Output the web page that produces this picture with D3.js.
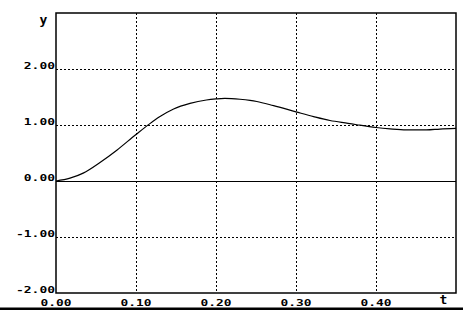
<!DOCTYPE html>
<html><head><meta charset="utf-8">
<script src="https://cdn.jsdelivr.net/npm/d3@7"></script>
<style>html,body{margin:0;padding:0;background:#fff;}svg{display:block;}</style>
</head><body>
<svg id="c" width="463" height="310"></svg>
<script>
const xTicks = [0, 0.1, 0.2, 0.3, 0.4];
const yTicks = [-2, -1, 0, 1, 2];
const xLabels = ["0.00", "0.10", "0.20", "0.30", "0.40"];
const yLabels = ["-2.00", "-1.00", "0.00", "1.00", "2.00"];
const tValues = [0, 0.0175, 0.034, 0.055, 0.076, 0.1, 0.117, 0.13, 0.147, 0.1675, 0.188, 0.2, 0.211, 0.23, 0.2425, 0.251, 0.272, 0.3, 0.322, 0.3425, 0.365, 0.376, 0.4, 0.4175, 0.438, 0.463, 0.48, 0.5];
const yValues = [0, 0.05, 0.14, 0.33, 0.55, 0.83, 1.02, 1.15, 1.285, 1.385, 1.446, 1.465, 1.475, 1.46, 1.44, 1.42, 1.345, 1.235, 1.15, 1.08, 1.03, 1.005, 0.955, 0.93, 0.912, 0.912, 0.928, 0.94];

const svg = d3.select("#c");
const x = d3.scaleLinear().domain([0, 0.5]).range([56, 456]);
const y = d3.scaleLinear().domain([-2, 3]).range([293, 13]);
const font = "'DejaVu Sans Mono', monospace";

// grid
const grid = svg.append("g").attr("stroke", "#000").attr("stroke-width", 1).attr("stroke-dasharray", "2,2");
grid.selectAll("line.v").data(xTicks.filter(d => d > 0)).join("line")
  .attr("x1", d => Math.round(x(d)) + 0.5).attr("x2", d => Math.round(x(d)) + 0.5)
  .attr("y1", y(3)).attr("y2", y(-2));
grid.selectAll("line.h").data(yTicks.filter(d => d !== 0 && d !== -2)).join("line")
  .attr("class", "h")
  .attr("x1", x(0)).attr("x2", x(0.5))
  .attr("y1", d => Math.round(y(d)) + 0.5).attr("y2", d => Math.round(y(d)) + 0.5);

// zero line
svg.append("line").attr("x1", x(0)).attr("x2", x(0.5))
  .attr("y1", Math.round(y(0)) + 0.5).attr("y2", Math.round(y(0)) + 0.5)
  .attr("stroke", "#000").attr("stroke-width", 1);

// frame
svg.append("rect").attr("x", x(0)).attr("y", y(3)).attr("width", x(0.5) - x(0)).attr("height", y(-2) - y(3))
  .attr("fill", "none").attr("stroke", "#000").attr("stroke-width", 1.5);

// curve
const line = d3.line().x((d, i) => x(tValues[i])).y(d => y(d)).curve(d3.curveMonotoneX);
svg.append("path").datum(yValues).attr("d", line).attr("fill", "none")
  .attr("stroke", "#000").attr("stroke-width", 1.2);

// y labels
svg.append("g").selectAll("text").data(yTicks).join("text")
  .attr("x", 55).attr("y", d => y(d) - 0.5)
  .attr("text-anchor", "end").attr("font-family", font).attr("font-weight", "bold").attr("font-size", 9)
  .attr("textLength", (d, i) => yLabels[i].length * 7.8).attr("lengthAdjust", "spacingAndGlyphs")
  .text((d, i) => yLabels[i]);

// x labels
svg.append("g").selectAll("text").data(xTicks).join("text")
  .attr("x", d => x(d) - 15.5).attr("y", 306)
  .attr("font-family", font).attr("font-weight", "bold").attr("font-size", 9)
  .attr("textLength", 31).attr("lengthAdjust", "spacingAndGlyphs")
  .text((d, i) => xLabels[i]);

// axis titles
svg.append("text").attr("x", 43.5).attr("y", 24).attr("text-anchor", "middle")
  .attr("font-family", font).attr("font-weight", "bold").attr("font-size", 13).text("y");
svg.append("text").attr("x", 443.5).attr("y", 304).attr("text-anchor", "middle")
  .attr("font-family", font).attr("font-weight", "bold").attr("font-size", 13).text("t");

// bottom bar
svg.append("rect").attr("x", 0).attr("y", 307.5).attr("width", 463).attr("height", 2.5).attr("fill", "#000");
</script>
</body></html>
